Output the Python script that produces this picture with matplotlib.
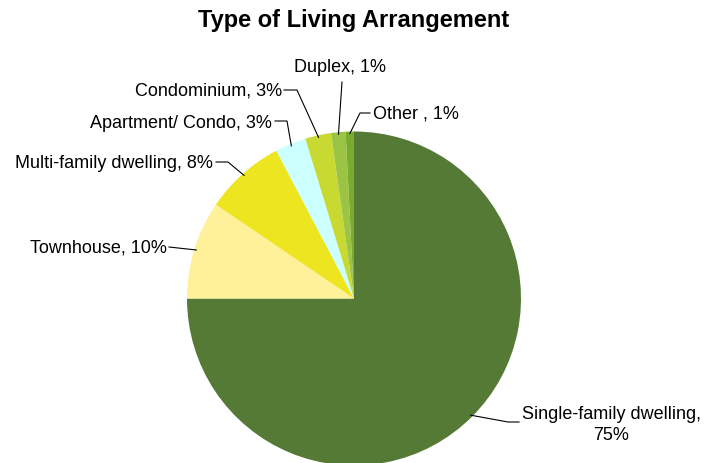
import numpy as np
import matplotlib
matplotlib.use("Agg")
import matplotlib.pyplot as plt

plt.rcParams['font.family'] = ['Liberation Sans', 'DejaVu Sans']

categories = ['Single-family dwelling', 'Townhouse', 'Multi-family dwelling',
              'Apartment/ Condo', 'Condominium', 'Duplex', 'Other ']
shares = [75.0, 9.5, 7.8, 3.0, 2.5, 1.4, 0.8]
pct_labels = ['75%', '10%', '8%', '3%', '3%', '1%', '1%']
colors = ['#557A36', '#FFF09A', '#ECE51F', '#CCFFFF', '#C8D932', '#9CC444', '#78AB2E']

W, H = 706, 464


def Y(y):
    # image rows -> axis coords
    return H - y


fig = plt.figure(figsize=(W / 100, H / 100), dpi=100)
ax = fig.add_axes([0, 0, 1, 1])

wedges, _ = ax.pie(shares, colors=colors, startangle=90, counterclock=False,
                   center=(354, Y(299.5)), radius=167,
                   wedgeprops=dict(linewidth=0), frame=True)
ax.set_xlim(0, W)
ax.set_ylim(0, H)
ax.set_aspect('equal')
ax.axis('off')

# text anchor, alignment, elbow point, line end for each label
layout = [
    ((611, 425), 'center', (508, 423), (519, 423)),
    ((167, 248), 'right', None, (169, 248)),
    ((213, 163), 'right', (228, 163), (216, 163)),
    ((272, 123), 'right', (287, 122), (275, 122)),
    ((282, 91), 'right', (297, 91), (284, 91)),
    ((340, 68), 'center', None, (342, 83)),
    ((373, 114), 'left', (360, 114), (370, 114)),
]

for w, cat, pct, (tpos, ha, elbow, lend) in zip(wedges, categories, pct_labels, layout):
    mid = np.deg2rad((w.theta1 + w.theta2) / 2)
    cx, cy = w.center
    px, py = cx + (w.r - 2) * np.cos(mid), cy + (w.r - 2) * np.sin(mid)
    xs, ys = [px], [py]
    if elbow is not None:
        xs.append(elbow[0])
        ys.append(Y(elbow[1]))
    xs.append(lend[0])
    ys.append(Y(lend[1]))
    ax.plot(xs, ys, color='black', lw=0.8)
    if cat.startswith('Single'):
        txt = f'{cat},\n{pct}'
    else:
        txt = f'{cat}, {pct}'
    ax.text(tpos[0], Y(tpos[1]), txt, ha=ha, va='center', fontsize=13,
            multialignment='center', linespacing=1.3)

ax.text(354, Y(20), 'Type of Living Arrangement', ha='center', va='center',
        fontsize=17, fontweight='bold')

fig.savefig('out.png', dpi=100)
